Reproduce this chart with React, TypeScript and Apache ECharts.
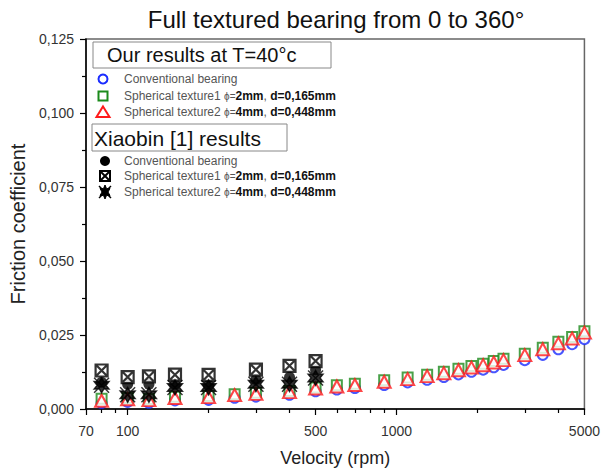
import React, { useEffect, useRef } from 'react';
import * as echarts from 'echarts';

// ---- Data ----
const velocityOurs = [80, 100, 120, 150, 200, 250, 300, 400, 500, 600, 700, 900, 1100, 1300, 1500, 1700, 1900, 2100, 2300, 2500, 3000, 3500, 4000, 4500, 5000];
const oursConventional = [0.0020, 0.0024, 0.0021, 0.0029, 0.0031, 0.0038, 0.0042, 0.0048, 0.0060, 0.0066, 0.0071, 0.0081, 0.0090, 0.0099, 0.0108, 0.0117, 0.0126, 0.0133, 0.0141, 0.0149, 0.0165, 0.0183, 0.0202, 0.0219, 0.0236];
const oursTexture1 = [0.0035, 0.0037, 0.0034, 0.0041, 0.0044, 0.0050, 0.0055, 0.0061, 0.0073, 0.0080, 0.0085, 0.0097, 0.0106, 0.0116, 0.0126, 0.0136, 0.0145, 0.0153, 0.0162, 0.0170, 0.0187, 0.0207, 0.0227, 0.0243, 0.0263];
const oursTexture2 = [0.0028, 0.0033, 0.0030, 0.0037, 0.0040, 0.0047, 0.0051, 0.0057, 0.0069, 0.0076, 0.0081, 0.0092, 0.0101, 0.0111, 0.0121, 0.0131, 0.0140, 0.0148, 0.0157, 0.0165, 0.0182, 0.0202, 0.0222, 0.0238, 0.0258];

const velocityXiaobin = [80, 100, 120, 150, 200, 300, 400, 500];
const xiaobinConventional = [0.0090, 0.0084, 0.0084, 0.0084, 0.0080, 0.0100, 0.0107, 0.0133];
const xiaobinTexture1 = [0.0130, 0.0108, 0.0110, 0.0116, 0.0115, 0.0133, 0.0146, 0.0162];
const xiaobinTexture2 = [0.0080, 0.0048, 0.0048, 0.0073, 0.0073, 0.0084, 0.0084, 0.0105];

const xMajorTicks = [70, 100, 500, 1000, 5000];
const xMinorTicks = [80, 90, 200, 300, 400, 600, 700, 800, 900, 2000, 3000, 4000];

const FONT = 'Liberation Sans, Arial, sans-serif';
const BLUE = '#1a2cff';
const GREEN = '#1b8a1b';
const RED = '#ff1a1a';

const SQUARE_X = 'path://M0 0H10V10H0Z M0 0L10 10 M10 0L0 10';
const STAR_X = 'path://M5 0L6.5 2.6L10 2.5L8 5L10 7.5L6.5 7.4L5 10L3.5 7.4L0 7.5L2 5L0 2.5L3.5 2.6Z M0 0L10 10 M10 0L0 10';

const zip = (xs: number[], ys: number[]) => xs.map((x, i) => [x, ys[i]]);

function legendText(label: string, phi: string, depth: string) {
  return `{n|${label} }{p|ϕ=}{b|${phi}}{n|, }{b|d=${depth}}`;
}

const richStyles = {
  n: { fontSize: 12, fontFamily: FONT, fill: '#555', color: '#555' },
  p: { fontSize: 10, fontFamily: FONT, fill: '#555', color: '#555' },
  b: { fontSize: 12, fontFamily: FONT, fontWeight: 'bold', fill: '#111', color: '#111' },
};

export default function App() {
  const ref = useRef<HTMLDivElement>(null);

  useEffect(() => {
    if (!ref.current) return;
    const chart = echarts.init(ref.current, null, { renderer: 'svg' });

    const itemText = (x: number, y: number, content: string) => ({
      type: 'text',
      x,
      y,
      style: {
        text: content,
        font: `12px ${FONT}`,
        fill: '#555',
        verticalAlign: 'middle',
        rich: richStyles,
      },
    });

    const option: any = {
      animation: false,
      backgroundColor: '#fff',
      title: {
        text: 'Full textured bearing from 0 to 360°',
        left: 336,
        top: 7,
        padding: 0,
        textAlign: 'center',
        textStyle: { fontFamily: FONT, fontSize: 24, fontWeight: 'normal', color: '#111' },
      },
      grid: {
        left: 86,
        right: 16,
        top: 39,
        bottom: 62,
        show: true,
        borderColor: '#666',
        borderWidth: 1.5,
        backgroundColor: 'transparent',
      },
      xAxis: [
        {
          type: 'log',
          logBase: 10,
          min: 70,
          max: 5000,
          name: 'Velocity (rpm)',
          nameLocation: 'middle',
          nameGap: 40,
          nameTextStyle: { fontFamily: FONT, fontSize: 18, color: '#222' },
          axisLine: { show: true, lineStyle: { color: '#000', width: 1.5 } },
          axisTick: { show: true, customValues: xMajorTicks, length: 6, lineStyle: { color: '#000', width: 1.2 } },
          axisLabel: {
            customValues: xMajorTicks,
            margin: 15,
            fontFamily: FONT,
            fontSize: 14,
            color: '#333',
            formatter: (v: number) => String(Math.round(v)),
          },
          splitLine: { show: false },
        },
        {
          type: 'log',
          logBase: 10,
          min: 70,
          max: 5000,
          position: 'bottom',
          axisLine: { show: false },
          axisTick: { show: true, customValues: xMinorTicks, length: 4, lineStyle: { color: '#000', width: 1.2 } },
          axisLabel: { show: false },
          splitLine: { show: false },
        },
      ],
      yAxis: {
        type: 'value',
        min: 0,
        max: 0.125,
        interval: 0.025,
        name: 'Friction coefficient',
        nameLocation: 'middle',
        nameGap: 55,
        nameTextStyle: { fontFamily: FONT, fontSize: 20, color: '#222' },
        axisLine: { show: true, lineStyle: { color: '#000', width: 1.5 } },
        axisTick: { show: true, length: 6, lineStyle: { color: '#000', width: 1.2 } },
        minorTick: { show: true, splitNumber: 2, length: 4, lineStyle: { color: '#000', width: 1.2 } },
        axisLabel: {
          margin: 12,
          fontFamily: FONT,
          fontSize: 14,
          color: '#333',
          formatter: (v: number) => v.toFixed(3).replace('.', ','),
        },
        splitLine: { show: false },
      },
      series: [
        {
          name: 'Our: Conventional bearing',
          type: 'scatter',
          data: zip(velocityOurs, oursConventional),
          symbol: 'circle',
          symbolSize: 10,
          itemStyle: { color: '#fff', borderColor: BLUE, borderWidth: 2 },
        },
        {
          name: 'Our: Spherical texture1',
          type: 'scatter',
          data: zip(velocityOurs, oursTexture1),
          symbol: 'rect',
          symbolSize: 10,
          itemStyle: { color: '#fff', borderColor: GREEN, borderWidth: 2 },
        },
        {
          name: 'Our: Spherical texture2',
          type: 'scatter',
          data: zip(velocityOurs, oursTexture2),
          symbol: 'triangle',
          symbolSize: [13, 12],
          itemStyle: { color: '#fff', borderColor: RED, borderWidth: 2 },
        },
        {
          name: 'Xiaobin: Conventional bearing',
          type: 'scatter',
          data: zip(velocityXiaobin, xiaobinConventional),
          symbol: 'circle',
          symbolSize: 11,
          itemStyle: { color: '#000' },
        },
        {
          name: 'Xiaobin: Spherical texture1',
          type: 'scatter',
          data: zip(velocityXiaobin, xiaobinTexture1),
          symbol: SQUARE_X,
          symbolSize: 12,
          itemStyle: { color: '#fff', borderColor: '#000', borderWidth: 2.2 },
        },
        {
          name: 'Xiaobin: Spherical texture2',
          type: 'scatter',
          data: zip(velocityXiaobin, xiaobinTexture2),
          symbol: STAR_X,
          symbolSize: 15,
          itemStyle: { color: '#000', borderColor: '#000', borderWidth: 1.4 },
        },
      ],
      graphic: [
        // Group 1 header
        { type: 'rect', shape: { x: 93, y: 42, width: 238, height: 26 }, style: { fill: '#fff', stroke: '#888', lineWidth: 1 }, z: 10 },
        { type: 'text', x: 107, y: 55, z: 11, style: { text: 'Our results at T=40°c', font: `20px ${FONT}`, fill: '#111', verticalAlign: 'middle' } },
        { type: 'circle', shape: { cx: 103, cy: 79, r: 4.5 }, style: { fill: '#fff', stroke: BLUE, lineWidth: 2 }, z: 11 },
        { type: 'rect', shape: { x: 98.5, y: 91.5, width: 9, height: 9 }, style: { fill: '#fff', stroke: GREEN, lineWidth: 2 }, z: 11 },
        { type: 'polygon', shape: { points: [[103, 106.5], [109.5, 117], [96.5, 117]] }, style: { fill: '#fff', stroke: RED, lineWidth: 2 }, z: 11 },
        { ...itemText(124, 79, '{n|Conventional bearing}'), z: 11 },
        { ...itemText(124, 96, legendText('Spherical texture1', '2mm', '0,165mm')), z: 11 },
        { ...itemText(124, 112, legendText('Spherical texture2', '4mm', '0,448mm')), z: 11 },
        // Group 2 header
        { type: 'rect', shape: { x: 92, y: 124, width: 195, height: 27 }, style: { fill: '#fff', stroke: '#888', lineWidth: 1 }, z: 10 },
        { type: 'text', x: 94, y: 138, z: 11, style: { text: 'Xiaobin [1] results', font: `21px ${FONT}`, fill: '#111', verticalAlign: 'middle' } },
        { type: 'circle', shape: { cx: 105, cy: 161, r: 5 }, style: { fill: '#000' }, z: 11 },
        { type: 'rect', shape: { x: 100, y: 171, width: 10, height: 10 }, style: { fill: '#fff', stroke: '#000', lineWidth: 2 }, z: 11 },
        { type: 'line', shape: { x1: 100, y1: 171, x2: 110, y2: 181 }, style: { stroke: '#000', lineWidth: 2 }, z: 11 },
        { type: 'line', shape: { x1: 110, y1: 171, x2: 100, y2: 181 }, style: { stroke: '#000', lineWidth: 2 }, z: 11 },
        { type: 'polygon', shape: { points: [[105, 185], [106.5, 188.6], [110, 188.5], [108, 192], [110, 195.5], [106.5, 195.4], [105, 199], [103.5, 195.4], [100, 195.5], [102, 192], [100, 188.5], [103.5, 188.6]] }, style: { fill: '#000', stroke: '#000', lineWidth: 1 }, z: 11 },
        { type: 'line', shape: { x1: 99, y1: 186, x2: 111, y2: 198 }, style: { stroke: '#000', lineWidth: 1.5 }, z: 11 },
        { type: 'line', shape: { x1: 111, y1: 186, x2: 99, y2: 198 }, style: { stroke: '#000', lineWidth: 1.5 }, z: 11 },
        { ...itemText(124, 161, '{n|Conventional bearing}'), z: 11 },
        { ...itemText(124, 176, legendText('Spherical texture1', '2mm', '0,165mm')), z: 11 },
        { ...itemText(124, 192, legendText('Spherical texture2', '4mm', '0,448mm')), z: 11 },
      ],
    };

    chart.setOption(option);
    return () => chart.dispose();
  }, []);

  return (
    <div
      ref={ref}
      style={{ position: 'fixed', left: 0, top: 0, width: 603, height: 472, background: '#fff' }}
    />
  );
}
